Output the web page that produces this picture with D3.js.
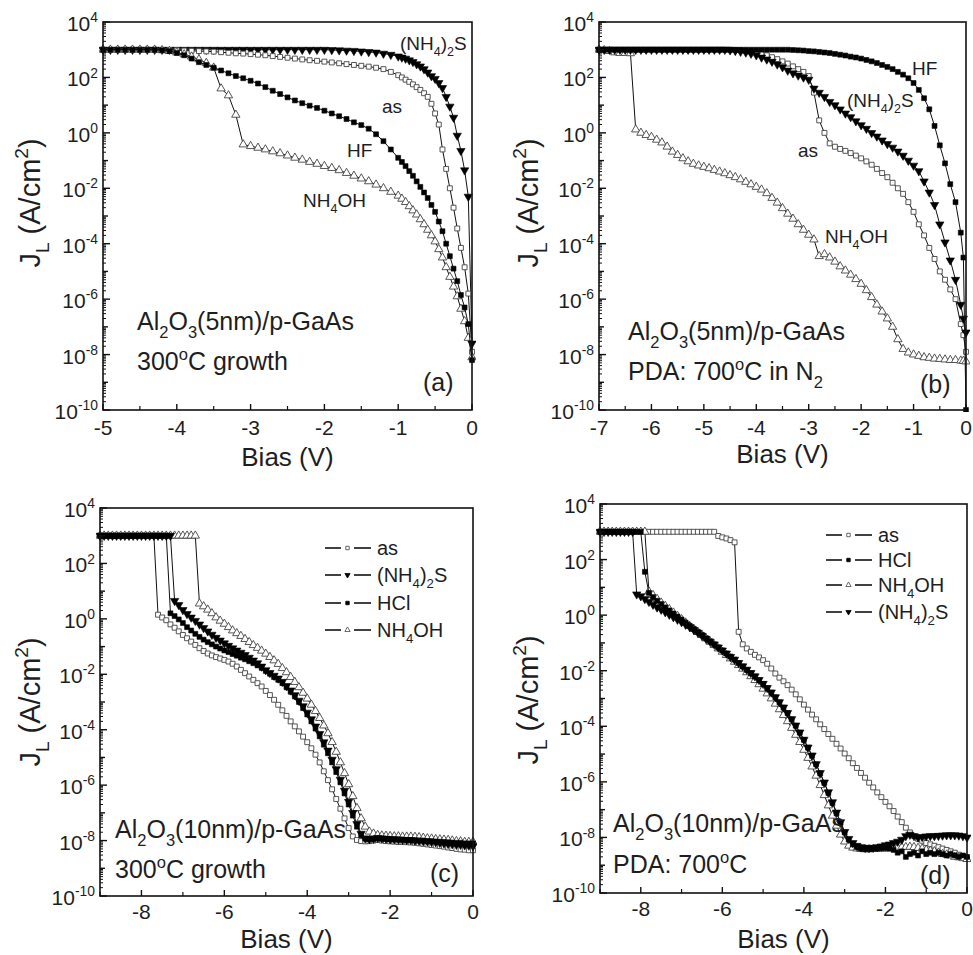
<!DOCTYPE html>
<html><head><meta charset="utf-8">
<script src="https://cdn.jsdelivr.net/npm/d3@7"></script>
<style>
body{margin:0;background:#fff}
text{font-family:"Liberation Sans",Arial,Helvetica,sans-serif;fill:#1e1e1e}
</style>
</head><body>
<script>
// ---------------- DATA (log10 of J_L in A/cm^2) ----------------
const biasA = [-5,-4.9,-4.8,-4.7,-4.6,-4.5,-4.4,-4.3,-4.2,-4.1,
 -4,-3.9,-3.8,-3.7,-3.6,-3.5,-3.4,-3.3,-3.2,-3.1,
 -3,-2.9,-2.8,-2.7,-2.6,-2.5,-2.4,-2.3,-2.2,-2.1,
 -2,-1.9,-1.8,-1.7,-1.6,-1.5,-1.4,-1.3,-1.2,-1.1,
 -1,-0.95,-0.9,-0.85,-0.8,-0.75,-0.7,-0.65,-0.6,-0.55,
 -0.5,-0.45,-0.4,-0.35,-0.3,-0.25,-0.2,-0.15,-0.1,-0.05,0];
const aAs = [3,3,3,3,3,3,3,3,2.99,2.99,
 2.98,2.97,2.96,2.95,2.94,2.93,2.91,2.89,2.87,2.86,
 2.84,2.82,2.8,2.77,2.74,2.71,2.68,2.65,2.62,2.6,
 2.57,2.54,2.51,2.48,2.45,2.42,2.39,2.35,2.3,2.2,
 2.08,2.0,1.92,1.84,1.75,1.65,1.55,1.43,1.3,1.05,
 0.7,0.3,-0.6,-1.3,-2.0,-2.7,-3.45,-4.15,-4.85,-5.8,-7.9];
const aHF = [3,3,3,3,3,3,3,3,2.98,2.95,
 2.88,2.8,2.68,2.55,2.45,2.35,2.25,2.15,2.05,1.97,
 1.88,1.78,1.65,1.52,1.4,1.28,1.17,1.07,0.98,0.9,
 0.8,0.7,0.6,0.5,0.38,0.28,0.15,-0.05,-0.3,-0.6,
 -0.9,-1.05,-1.2,-1.38,-1.55,-1.75,-1.95,-2.15,-2.35,-2.6,
 -2.85,-3.2,-3.55,-4.0,-4.45,-4.9,-5.35,-5.85,-6.3,-6.9,-8.2];
const aNH4OH = [3,3,3,3,3,3,3,3,2.98,2.95,
 2.9,2.83,2.75,2.65,2.52,2.35,1.6,1.35,0.65,-0.42,
 -0.48,-0.54,-0.6,-0.67,-0.74,-0.82,-0.9,-0.97,-1.05,-1.12,
 -1.2,-1.27,-1.35,-1.45,-1.55,-1.65,-1.75,-1.87,-2.0,-2.13,
 -2.27,-2.38,-2.5,-2.65,-2.8,-2.95,-3.12,-3.3,-3.5,-3.7,
 -3.92,-4.2,-4.5,-4.85,-5.2,-5.55,-5.9,-6.35,-6.8,-7.4,-8.1];
const aNH42S = [3,3,3,3,3,3,3,3,3,3,
 3,3,3,3,3,3,3,3,3,3,
 3,3,3,3,3,3,3,3,3,3,
 3,2.99,2.98,2.97,2.96,2.94,2.92,2.9,2.86,2.82,
 2.76,2.72,2.68,2.62,2.56,2.48,2.4,2.3,2.18,2.05,
 1.95,1.8,1.62,1.3,0.95,0.55,-0.1,-0.65,-1.35,-2.3,-7.6];

const biasB = [-7,-6.9,-6.8,-6.7,-6.6,-6.5,-6.4,-6.3,-6.2,-6.1,
 -6,-5.9,-5.8,-5.7,-5.6,-5.5,-5.4,-5.3,-5.2,-5.1,
 -5,-4.9,-4.8,-4.7,-4.6,-4.5,-4.4,-4.3,-4.2,-4.1,
 -4,-3.9,-3.8,-3.7,-3.6,-3.5,-3.4,-3.3,-3.2,-3.1,
 -3,-2.9,-2.8,-2.7,-2.6,-2.5,-2.4,-2.3,-2.2,-2.1,
 -2,-1.9,-1.8,-1.7,-1.6,-1.5,-1.4,-1.3,-1.2,-1.1,
 -1,-0.9,-0.8,-0.7,-0.6,-0.5,-0.4,-0.3,-0.2,-0.1,
 -0.05,0];
const bHF = [3,3,3,3,3,3,3,3,3,3,
 3,3,3,3,3,3,3,3,3,3,
 3,3,3,3,3,3,3,3,3,3,
 3,3,3,3,3,3,3,2.99,2.98,2.97,
 2.95,2.94,2.92,2.9,2.88,2.85,2.82,2.79,2.75,2.72,
 2.68,2.63,2.58,2.52,2.45,2.38,2.3,2.2,2.1,1.97,
 1.8,1.55,1.25,0.85,0.25,-0.45,-1.1,-1.85,-2.5,-3.6,
 -4.5,-10];
const bNH42S = [3,3,3,3,3,3,3,3,3,3,
 3,3,3,3,3,3,3,3,3,3,
 3,3,3,3,3,2.98,2.96,2.93,2.9,2.86,
 2.8,2.72,2.65,2.57,2.47,2.37,2.25,2.15,2.07,2.0,
 1.92,1.6,1.45,1.3,1.12,1.0,0.85,0.7,0.57,0.42,
 0.28,0.15,0,-0.13,-0.27,-0.4,-0.53,-0.67,-0.82,-1.0,
 -1.18,-1.38,-1.75,-2.15,-2.6,-3.3,-3.95,-4.6,-5.3,-6.2,
 -6.7,-7.2];
const bAs = [3,3,3,3,3,3,3,3,3,3,
 3,3,3,3,3,3,3,3,3,3,
 3,3,3,3,3,3,2.99,2.98,2.96,2.93,
 2.9,2.86,2.8,2.73,2.66,2.58,2.5,2.4,2.3,2.2,
 2.05,1.45,0.45,0.0,-0.38,-0.5,-0.58,-0.65,-0.73,-0.82,
 -0.92,-1.03,-1.15,-1.3,-1.45,-1.6,-1.8,-2.0,-2.2,-2.5,
 -2.85,-3.3,-3.7,-4.15,-4.55,-5.0,-5.3,-5.65,-6.0,-6.9,
 -7.3,-7.9];
const bNH4OH = [3,2.98,2.95,2.9,2.88,2.88,2.87,0.12,0.0,-0.08,
 -0.15,-0.25,-0.35,-0.5,-0.68,-0.8,-0.92,-1.03,-1.12,-1.18,
 -1.23,-1.28,-1.34,-1.4,-1.46,-1.53,-1.6,-1.68,-1.77,-1.86,
 -1.95,-2.05,-2.18,-2.35,-2.52,-2.72,-2.92,-3.1,-3.3,-3.5,
 -3.68,-3.85,-4.45,-4.38,-4.5,-4.65,-4.82,-4.97,-5.12,-5.28,
 -5.45,-5.68,-5.93,-6.2,-6.45,-6.7,-7.0,-7.45,-7.8,-7.93,
 -8.0,-8.05,-8.1,-8.12,-8.15,-8.16,-8.18,-8.2,-8.2,-8.22,
 -8.23,-8.25];

const biasCD = [-9,-8.9,-8.8,-8.7,-8.6,-8.5,-8.4,-8.3,-8.2,-8.1,
 -8,-7.9,-7.8,-7.7,-7.6,-7.5,-7.4,-7.3,-7.2,-7.1,
 -7,-6.9,-6.8,-6.7,-6.6,-6.5,-6.4,-6.3,-6.2,-6.1,
 -6,-5.9,-5.8,-5.7,-5.6,-5.5,-5.4,-5.3,-5.2,-5.1,
 -5,-4.9,-4.8,-4.7,-4.6,-4.5,-4.4,-4.3,-4.2,-4.1,
 -4,-3.9,-3.8,-3.7,-3.6,-3.5,-3.4,-3.3,-3.2,-3.1,
 -3,-2.9,-2.8,-2.7,-2.6,-2.5,-2.4,-2.3,-2.2,-2.1,
 -2,-1.9,-1.8,-1.7,-1.6,-1.5,-1.4,-1.3,-1.2,-1.1,
 -1,-0.9,-0.8,-0.7,-0.6,-0.5,-0.4,-0.3,-0.2,-0.1,0];
const cAs = [3,3,3,3,3,3,3,3,3,3,
 3,3,3,3,0.15,0.05,-0.05,-0.2,-0.32,-0.45,
 -0.58,-0.7,-0.82,-0.94,-1.06,-1.16,-1.25,-1.32,-1.38,-1.43,
 -1.48,-1.54,-1.62,-1.72,-1.84,-1.96,-2.08,-2.2,-2.32,-2.44,
 -2.6,-2.75,-2.92,-3.1,-3.3,-3.5,-3.7,-3.88,-4.06,-4.25,
 -4.45,-4.67,-4.9,-5.18,-5.5,-5.82,-6.15,-6.5,-6.85,-7.2,
 -7.55,-7.85,-7.98,-8.02,-8.03,-8.02,-8.0,-7.98,-8.0,-8.02,
 -8.03,-8.04,-8.05,-8.05,-8.06,-8.07,-8.08,-8.1,-8.12,-8.14,
 -8.16,-8.18,-8.2,-8.22,-8.25,-8.27,-8.3,-8.32,-8.33,-8.35,-8.35];
const cNH42S = [3,3,3,3,3,3,3,3,3,3,
 3,3,3,3,3,3,3,3,0.65,0.5,
 0.32,0.18,0.05,-0.07,-0.2,-0.33,-0.45,-0.57,-0.68,-0.78,
 -0.88,-0.97,-1.06,-1.14,-1.22,-1.3,-1.4,-1.5,-1.6,-1.72,
 -1.85,-1.95,-2.05,-2.15,-2.27,-2.42,-2.58,-2.75,-2.95,-3.15,
 -3.38,-3.62,-3.88,-4.15,-4.45,-4.75,-5.08,-5.42,-5.8,-6.2,
 -6.6,-7.0,-7.4,-7.75,-7.92,-7.95,-7.93,-7.9,-7.92,-7.93,
 -7.95,-7.95,-7.96,-7.97,-7.98,-7.98,-8.0,-8.0,-8.02,-8.03,
 -8.05,-8.06,-8.08,-8.1,-8.12,-8.13,-8.15,-8.15,-8.17,-8.18,-8.2];
const cHCl = [3,3,3,3,3,3,3,3,3,3,
 3,3,3,3,3,3,3,0.2,0.1,-0.02,
 -0.15,-0.3,-0.42,-0.54,-0.65,-0.75,-0.84,-0.92,-1.0,-1.07,
 -1.14,-1.2,-1.27,-1.33,-1.4,-1.46,-1.53,-1.6,-1.68,-1.77,
 -1.88,-1.98,-2.1,-2.2,-2.32,-2.47,-2.63,-2.8,-3.0,-3.22,
 -3.45,-3.7,-3.96,-4.24,-4.54,-4.85,-5.18,-5.53,-5.9,-6.3,
 -6.7,-7.1,-7.5,-7.8,-7.93,-7.95,-7.94,-7.92,-7.93,-7.94,
 -7.95,-7.96,-7.96,-7.97,-7.98,-7.98,-7.99,-8.0,-8.0,-8.02,
 -8.02,-8.03,-8.04,-8.05,-8.06,-8.07,-8.08,-8.08,-8.1,-8.1,-8.1];
const cNH4OH = [3,3,3,3,3,3,3,3,3,3,
 3,3,3,3,3,3,3,3,3,3,
 3,3,3,3,0.55,0.45,0.33,0.2,0.05,-0.07,
 -0.18,-0.3,-0.42,-0.52,-0.62,-0.73,-0.84,-0.95,-1.05,-1.15,
 -1.26,-1.38,-1.5,-1.63,-1.78,-1.93,-2.1,-2.28,-2.47,-2.67,
 -2.88,-3.1,-3.33,-3.58,-3.85,-4.13,-4.45,-4.8,-5.18,-5.57,
 -5.97,-6.4,-6.83,-7.2,-7.5,-7.68,-7.75,-7.8,-7.82,-7.83,
 -7.84,-7.85,-7.85,-7.86,-7.86,-7.86,-7.87,-7.88,-7.9,-7.92,
 -7.93,-7.95,-7.96,-7.97,-7.98,-8.0,-8.02,-8.03,-8.05,-8.05,-8.05];

const dAs = [3,3,3,3,3,3,3,3,3,3,
 3,3,3,3,3,3,3,3,3,3,
 3,3,3,3,3,3,3,3,3,2.85,
 2.8,2.76,2.7,2.62,-0.6,-1.05,-1.2,-1.32,-1.43,-1.52,
 -1.62,-1.75,-1.92,-2.1,-2.25,-2.38,-2.52,-2.68,-2.85,-3.03,
 -3.22,-3.4,-3.58,-3.75,-3.93,-4.1,-4.28,-4.45,-4.63,-4.8,
 -4.98,-5.15,-5.33,-5.5,-5.68,-5.85,-6.03,-6.2,-6.38,-6.55,
 -6.72,-6.88,-7.05,-7.25,-7.45,-7.65,-7.82,-7.95,-8.05,-8.12,
 -8.2,-8.25,-8.3,-8.35,-8.4,-8.45,-8.5,-8.55,-8.62,-8.7,-8.75];
const dHCl = [3,3,3,3,3,3,3,3,3,3,
 3,1.56,0.8,0.65,0.52,0.4,0.28,0.17,0.06,-0.05,
 -0.16,-0.27,-0.38,-0.49,-0.6,-0.71,-0.83,-0.94,-1.05,-1.16,
 -1.27,-1.38,-1.49,-1.6,-1.72,-1.85,-1.97,-2.09,-2.21,-2.34,
 -2.48,-2.63,-2.79,-2.96,-3.14,-3.33,-3.53,-3.75,-3.98,-4.23,
 -4.49,-4.77,-5.06,-5.37,-5.7,-6.04,-6.4,-6.76,-7.13,-7.48,
 -7.82,-8.08,-8.25,-8.35,-8.4,-8.42,-8.42,-8.4,-8.4,-8.38,
 -8.38,-8.4,-8.45,-8.55,-8.5,-8.7,-8.6,-8.55,-8.65,-8.5,
 -8.6,-8.55,-8.6,-8.55,-8.6,-8.65,-8.6,-8.65,-8.7,-8.65,-8.7];
const dNH4OH = [3,3,3,3,3,3,3,3,3,3,
 3,3,0.85,0.72,0.58,0.45,0.33,0.21,0.09,-0.03,
 -0.15,-0.27,-0.39,-0.5,-0.61,-0.72,-0.84,-0.96,-1.08,-1.2,
 -1.32,-1.44,-1.56,-1.68,-1.8,-1.93,-2.06,-2.2,-2.34,-2.49,
 -2.65,-2.82,-3.0,-3.19,-3.39,-3.6,-3.82,-4.06,-4.31,-4.57,
 -4.85,-5.14,-5.45,-5.78,-6.12,-6.48,-6.85,-7.22,-7.58,-7.9,
 -8.15,-8.3,-8.37,-8.4,-8.42,-8.43,-8.43,-8.42,-8.42,-8.41,
 -8.4,-8.4,-8.38,-8.37,-8.35,-8.35,-8.34,-8.35,-8.38,-8.4,
 -8.45,-8.48,-8.5,-8.55,-8.6,-8.62,-8.65,-8.7,-8.72,-8.75,-8.78];
const dNH42S = [3,3,3,3,3,3,3,3,3,0.75,
 0.68,0.58,0.48,0.38,0.28,0.2,0.11,0.02,-0.07,-0.16,
 -0.25,-0.34,-0.43,-0.53,-0.63,-0.74,-0.85,-0.95,-1.05,-1.16,
 -1.27,-1.38,-1.5,-1.6,-1.72,-1.84,-1.96,-2.08,-2.2,-2.33,
 -2.47,-2.62,-2.78,-2.95,-3.13,-3.32,-3.52,-3.74,-3.97,-4.22,
 -4.48,-4.76,-5.05,-5.36,-5.68,-6.02,-6.37,-6.73,-7.1,-7.45,
 -7.8,-8.05,-8.2,-8.3,-8.35,-8.37,-8.38,-8.37,-8.35,-8.32,
 -8.28,-8.25,-8.2,-8.15,-8.08,-7.95,-7.9,-7.95,-8.0,-7.98,
 -7.96,-7.95,-7.95,-7.94,-7.93,-7.92,-7.92,-7.92,-7.93,-7.95,-8.0];

const yDecadeLabels = [4,2,0,-2,-4,-6,-8,-10];
const xTicksA = [-5,-4,-3,-2,-1,0];
const xTicksB = [-7,-6,-5,-4,-3,-2,-1,0];
const xTicksCD = [-8,-6,-4,-2,0];

// ---------------- DRAWING ----------------
const svg = d3.select("body").append("svg").attr("width",973).attr("height",955);

function rich(parent, x, y, parts, size, anchor, transform){
  const t = parent.append("text").attr("x",x).attr("y",y)
    .attr("font-size",size).attr("text-anchor",anchor||"start");
  if(transform) t.attr("transform",transform);
  let cur = 0;
  parts.forEach(p=>{
    const s = typeof p==="string"? p : p[0];
    const m = typeof p==="string"? 0 : p[1];
    const target = m===1 ? -0.42*size : (m===-1 ? 0.3*size : 0);
    const ts = t.append("tspan").text(s).attr("font-size", m? size*0.66 : size);
    if(target!==cur) ts.attr("dy", target-cur);
    cur = target;
  });
  return t;
}

function marker(m, size){
  const type = (m==="sq"||m==="fsq") ? d3.symbolSquare : d3.symbolTriangle;
  return d3.symbol().type(type).size(size);
}

const panels = [
 {id:"a", x0:103, x1:472, y0:22, y1:410, xdom:[-5,0], xt:xTicksA, xminorStep:0.5, bias:biasA,
  series:[{v:aNH42S,m:"tdown"},{v:aAs,m:"sq"},{v:aNH4OH,m:"tri"},{v:aHF,m:"fsq"}],
  ylabX:40, ylabY:203, xlabY:466, xtY:25,
  notes:[
   {x:400,y:50,s:19,p:["(NH",["4",-1],")",["2",-1],"S"]},
   {x:382,y:113,s:19,p:["as"]},
   {x:347,y:157,s:19,p:["HF"]},
   {x:303,y:207,s:19,p:["NH",["4",-1],"OH"]},
   {x:137,y:330,s:25,p:["Al",["2",-1],"O",["3",-1],"(5nm)/p-GaAs"]},
   {x:137,y:370,s:25,p:["300",["o",1],"C growth"]},
   {x:423,y:391,s:25,p:["(a)"]}
  ]},
 {id:"b", x0:599, x1:966, y0:22, y1:410, xdom:[-7,0], xt:xTicksB, xminorStep:0.5, bias:biasB,
  series:[{v:bAs,m:"sq"},{v:bNH4OH,m:"tri"},{v:bNH42S,m:"tdown"},{v:bHF,m:"fsq"}],
  ylabX:538, ylabY:203, xlabY:463, xtY:25,
  notes:[
   {x:912,y:75,s:19,p:["HF"]},
   {x:847,y:107,s:19,p:["(NH",["4",-1],")",["2",-1],"S"]},
   {x:798,y:157,s:19,p:["as"]},
   {x:825,y:243,s:19,p:["NH",["4",-1],"OH"]},
   {x:628,y:340,s:25,p:["Al",["2",-1],"O",["3",-1],"(5nm)/p-GaAs"]},
   {x:628,y:380,s:25,p:["PDA: 700",["o",1],"C in N",["2",-1]]},
   {x:920,y:393,s:25,p:["(b)"]}
  ]},
 {id:"c", x0:100, x1:473, y0:508, y1:896, xdom:[-9,0], xt:xTicksCD, xminorStep:1, bias:biasCD,
  series:[{v:cAs,m:"sq"},{v:cNH4OH,m:"tri"},{v:cHCl,m:"fsq"},{v:cNH42S,m:"tdown"}],
  ylabX:40, ylabY:702, xlabY:948, xtY:23,
  legend:{x:325, rows:[548,575,603,630], items:[
    {m:"sq",p:["as"]},{m:"tdown",p:["(NH",["4",-1],")",["2",-1],"S"]},{m:"fsq",p:["HCl"]},{m:"tri",p:["NH",["4",-1],"OH"]}]},
  notes:[
   {x:115,y:838,s:25,p:["Al",["2",-1],"O",["3",-1],"(10nm)/p-GaAs"]},
   {x:115,y:878,s:25,p:["300",["o",1],"C growth"]},
   {x:430,y:882,s:25,p:["(c)"]}
  ]},
 {id:"d", x0:600, x1:967, y0:504, y1:893, xdom:[-9,0], xt:xTicksCD, xminorStep:1, bias:biasCD,
  series:[{v:dAs,m:"sq"},{v:dNH4OH,m:"tri"},{v:dHCl,m:"fsq"},{v:dNH42S,m:"tdown"}],
  ylabX:538, ylabY:700, xlabY:948, xtY:23,
  legend:{x:826, rows:[535,560,585,612], items:[
    {m:"sq",p:["as"]},{m:"fsq",p:["HCl"]},{m:"tri",p:["NH",["4",-1],"OH"]},{m:"tdown",p:["(NH",["4",-1],")",["2",-1],"S"]}]},
  notes:[
   {x:613,y:832,s:25,p:["Al",["2",-1],"O",["3",-1],"(10nm)/p-GaAs"]},
   {x:613,y:873,s:25,p:["PDA: 700",["o",1],"C"]},
   {x:920,y:884,s:25,p:["(d)"]}
  ]}
];

panels.forEach(P=>{
  P.series.forEach(s=>{ if(s.v.length!==P.bias.length) throw new Error("length mismatch panel "+P.id+" "+s.m+" "+s.v.length+" vs "+P.bias.length); });
  const x = d3.scaleLinear().domain(P.xdom).range([P.x0,P.x1]);
  const y = d3.scaleLog().domain([1e-10,1e4]).range([P.y1,P.y0]);
  const g = svg.append("g");
  const clipId = "clip"+P.id;
  g.append("clipPath").attr("id",clipId).append("rect")
    .attr("x",P.x0-4).attr("y",P.y0).attr("width",P.x1-P.x0+8).attr("height",P.y1-P.y0+2);
  const plot = g.append("g").attr("clip-path",`url(#${clipId})`);
  const line = d3.line().x(d=>x(d[0])).y(d=>y(d[1]));
  P.series.forEach(s=>{
    const pts = P.bias.map((b,i)=>[b, Math.pow(10,s.v[i])]);
    plot.append("path").attr("d",line(pts)).attr("fill","none").attr("stroke","#111").attr("stroke-width",1);
    const open = (s.m==="sq"||s.m==="tri");
    const sym = marker(s.m, s.m.includes("sq")?24:30);
    plot.selectAll(null).data(pts).enter().append("path")
      .attr("d",sym)
      .attr("transform",d=>`translate(${x(d[0])},${y(d[1])})`+(s.m==="tdown"?" rotate(180)":""))
      .attr("fill",open?"#fff":"#000")
      .attr("stroke",open?"#444":"#000")
      .attr("stroke-width",open?0.9:0.6);
  });
  // frame
  g.append("rect").attr("x",P.x0).attr("y",P.y0).attr("width",P.x1-P.x0).attr("height",P.y1-P.y0)
    .attr("fill","none").attr("stroke","#111").attr("stroke-width",1.6);
  // y ticks
  for(let e=-10;e<=4;e++){
    const yy = y(Math.pow(10,e));
    const len = (e%2===0)?7:5;
    g.append("line").attr("x1",P.x0).attr("x2",P.x0+len).attr("y1",yy).attr("y2",yy).attr("stroke","#111").attr("stroke-width",1.4);
    if(e<4){
      for(let k=2;k<=9;k++){
        const ym = y(k*Math.pow(10,e));
        g.append("line").attr("x1",P.x0).attr("x2",P.x0+3).attr("y1",ym).attr("y2",ym).attr("stroke","#111").attr("stroke-width",1);
      }
    }
  }
  yDecadeLabels.forEach(e=>{
    rich(g, P.x0-5, y(Math.pow(10,e))+9, ["10",[String(e),1]], 21, "end");
  });
  // x ticks
  P.xt.forEach(v=>{
    const xx = x(v);
    g.append("line").attr("x1",xx).attr("x2",xx).attr("y1",P.y1).attr("y2",P.y1-6).attr("stroke","#111").attr("stroke-width",1.4);
    g.append("text").attr("x",xx).attr("y",P.y1+P.xtY).attr("text-anchor","middle").attr("font-size",21).text(String(v));
  });
  for(let v=P.xdom[0]; v<=P.xdom[1]+1e-9; v+=P.xminorStep){
    if(P.xt.some(t=>Math.abs(t-v)<1e-6)) continue;
    const xx=x(v);
    g.append("line").attr("x1",xx).attr("x2",xx).attr("y1",P.y1).attr("y2",P.y1-4).attr("stroke","#111").attr("stroke-width",1.2);
  }
  // axis titles
  g.append("text").attr("x",(P.x0+P.x1)/2).attr("y",P.xlabY).attr("text-anchor","middle").attr("font-size",26).text("Bias (V)");
  rich(g, 0, 0, ["J",["L",-1]," (A/cm",["2",1],")"], 29, "middle", `translate(${P.ylabX},${P.ylabY}) rotate(-90)`);
  // notes
  P.notes.forEach(n=> rich(g, n.x, n.y, n.p, n.s, "start"));
  // legend
  if(P.legend){
    const L = P.legend;
    L.items.forEach((it,i)=>{
      const yy = L.rows[i];
      g.append("line").attr("x1",L.x).attr("x2",L.x+16).attr("y1",yy).attr("y2",yy).attr("stroke","#111").attr("stroke-width",1.6);
      g.append("line").attr("x1",L.x+29).attr("x2",L.x+46).attr("y1",yy).attr("y2",yy).attr("stroke","#111").attr("stroke-width",1.6);
      const open = (it.m==="sq"||it.m==="tri");
      g.append("path").attr("d",marker(it.m,12)).attr("transform",`translate(${L.x+22.5},${yy})`+(it.m==="tdown"?" rotate(180)":""))
        .attr("fill",open?"#fff":"#000").attr("stroke",open?"#444":"#000").attr("stroke-width",0.8);
      rich(g, L.x+52, yy+7, it.p, 20, "start");
    });
  }
});
</script>
</body></html>
